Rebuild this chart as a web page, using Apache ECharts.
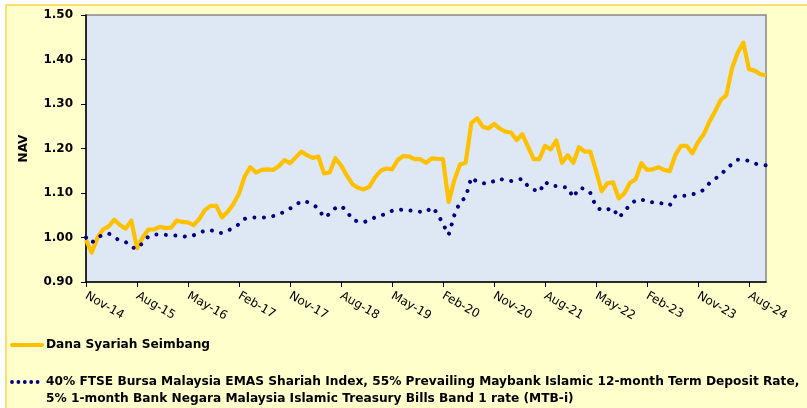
<!DOCTYPE html>
<html>
<head>
<meta charset="utf-8">
<script src="https://cdn.jsdelivr.net/npm/echarts@6/dist/echarts.min.js"></script>
<style>
html,body{margin:0;padding:0;background:#ffffff;}
#c{width:807px;height:408px;}
</style>
</head>
<body>
<div id="c"></div>
<script>
// ---- data ----
var monthNames = ['Jan','Feb','Mar','Apr','May','Jun','Jul','Aug','Sep','Oct','Nov','Dec'];
var startYear = 2014, startMonth = 10; // Nov-14
var monthCount = 121;                  // Nov-14 .. Nov-24
var categories = [];
for (var k = 0; k < monthCount; k++) {
  var m = (startMonth + k) % 12;
  var y = startYear + Math.floor((startMonth + k) / 12);
  categories.push(monthNames[m] + '-' + String(y).slice(2));
}

var seriesNames = [
  'Dana Syariah Seimbang',
  '40% FTSE Bursa Malaysia EMAS Shariah Index, 55% Prevailing Maybank Islamic 12-month Term Deposit Rate,\n5% 1-month Bank Negara Malaysia Islamic Treasury Bills Band 1 rate (MTB-i)'
];

var fundNav = [
  0.995,0.966,0.999,1.018,1.025,1.040,1.028,1.020,1.038,0.976,
  1.000,1.018,1.018,1.024,1.021,1.022,1.038,1.035,1.034,1.028,
  1.042,1.062,1.071,1.071,1.045,1.058,1.075,1.099,1.137,1.158,
  1.146,1.152,1.153,1.152,1.160,1.174,1.167,1.180,1.193,1.185,
  1.179,1.182,1.144,1.146,1.178,1.162,1.140,1.120,1.112,1.108,
  1.114,1.135,1.150,1.155,1.153,1.174,1.183,1.182,1.176,1.176,
  1.168,1.178,1.177,1.176,1.080,1.129,1.164,1.168,1.257,1.268,
  1.249,1.245,1.255,1.245,1.238,1.236,1.219,1.232,1.204,1.176,
  1.176,1.206,1.198,1.218,1.168,1.185,1.168,1.203,1.193,1.193,
  1.150,1.104,1.122,1.124,1.088,1.099,1.123,1.131,1.167,1.152,
  1.153,1.158,1.152,1.149,1.185,1.206,1.206,1.189,1.214,1.232,
  1.260,1.283,1.309,1.320,1.380,1.415,1.438,1.378,1.375,1.367,
  1.364
];

var benchmark = [
  1.000,0.988,1.000,1.006,1.009,1.000,0.993,0.990,0.978,0.975,
  0.988,1.002,1.007,1.007,1.006,1.005,1.004,1.003,1.001,1.005,
  1.011,1.015,1.017,1.011,1.010,1.015,1.022,1.030,1.042,1.045,
  1.045,1.045,1.045,1.048,1.052,1.058,1.065,1.073,1.082,1.080,
  1.075,1.065,1.045,1.053,1.066,1.071,1.060,1.040,1.036,1.034,
  1.040,1.045,1.049,1.054,1.060,1.061,1.063,1.061,1.059,1.058,
  1.057,1.068,1.055,1.030,1.006,1.050,1.080,1.090,1.135,1.125,
  1.122,1.121,1.127,1.132,1.128,1.127,1.129,1.132,1.115,1.108,
  1.102,1.125,1.116,1.116,1.114,1.112,1.090,1.111,1.110,1.100,
  1.069,1.061,1.063,1.066,1.045,1.057,1.075,1.083,1.086,1.080,
  1.079,1.079,1.075,1.072,1.093,1.094,1.094,1.097,1.100,1.107,
  1.122,1.132,1.140,1.155,1.165,1.175,1.175,1.172,1.166,1.164,
  1.162
];

var yMin = 0.9, yMax = 1.5, yStep = 0.1;
var labelEvery = 9;

// ---- chart ----
var FONT = 'DejaVu Sans';
var chart = echarts.init(document.getElementById('c'), null, {renderer: 'canvas'});
chart.setOption({
  animation: false,
  backgroundColor: '#ffffff',
  graphic: [
    {type: 'rect', z: -10, silent: true,
     shape: {x: 6, y: 5, width: 820, height: 420},
     style: {fill: '#FFFFCC', stroke: '#FFD24D', lineWidth: 1.5}},
    // legend item 1
    {type: 'line', shape: {x1: 12, y1: 345, x2: 42, y2: 345},
     style: {stroke: '#FFC000', lineWidth: 4, lineCap: 'round'}},
    {type: 'text', x: 46, y: 345,
     style: {text: seriesNames[0], font: 'bold 12.2px ' + FONT, fill: '#000', verticalAlign: 'middle'}},
    // legend item 2
    {type: 'line', shape: {x1: 12, y1: 382, x2: 44, y2: 382},
     style: {stroke: '#000080', lineWidth: 3.8, lineCap: 'round', lineDash: [0.001, 6.4]}},
    {type: 'text', x: 46, y: 382,
     style: {text: seriesNames[1].split('\n')[0], font: 'bold 12.2px ' + FONT, fill: '#000', verticalAlign: 'middle'}},
    {type: 'text', x: 46, y: 399,
     style: {text: seriesNames[1].split('\n')[1], font: 'bold 12.2px ' + FONT, fill: '#000', verticalAlign: 'middle'}}
  ],
  grid: {
    left: 86, right: 41, top: 15, bottom: 126,
    show: true, backgroundColor: '#DDE8F4', borderColor: '#868686', borderWidth: 1.5
  },
  xAxis: {
    type: 'category',
    data: categories,
    boundaryGap: false,
    axisLine: {lineStyle: {color: '#000', width: 1.5}},
    axisTick: {show: true, interval: labelEvery - 1, length: 5, lineStyle: {color: '#000'}},
    axisLabel: {interval: labelEvery - 1, rotate: -30, margin: 13,
                fontFamily: FONT, fontSize: 12, color: '#000'},
    splitLine: {show: false}
  },
  yAxis: {
    type: 'value',
    min: yMin, max: yMax, interval: yStep,
    name: 'NAV', nameLocation: 'middle', nameRotate: 90, nameGap: 56,
    nameTextStyle: {fontFamily: FONT, fontWeight: 'bold', fontSize: 12, color: '#000'},
    axisLine: {show: true, lineStyle: {color: '#000', width: 1.5}},
    axisTick: {show: true, length: 5, lineStyle: {color: '#000'}},
    axisLabel: {margin: 13, fontFamily: FONT, fontWeight: 'bold', fontSize: 12, color: '#000',
                formatter: function (v) { return v.toFixed(2); }},
    splitLine: {show: false}
  },
  series: [
    {
      name: seriesNames[0], type: 'line', data: fundNav,
      showSymbol: false, symbol: 'none',
      lineStyle: {color: '#FFC000', width: 4.2, join: 'round'},
      itemStyle: {color: '#FFC000'}, z: 2
    },
    {
      name: seriesNames[1], type: 'line', data: benchmark,
      showSymbol: false, symbol: 'none',
      lineStyle: {color: '#000080', width: 4, type: [0.001, 9.5], cap: 'round', join: 'round'},
      itemStyle: {color: '#000080'}, z: 3
    }
  ]
});
</script>
</body>
</html>
